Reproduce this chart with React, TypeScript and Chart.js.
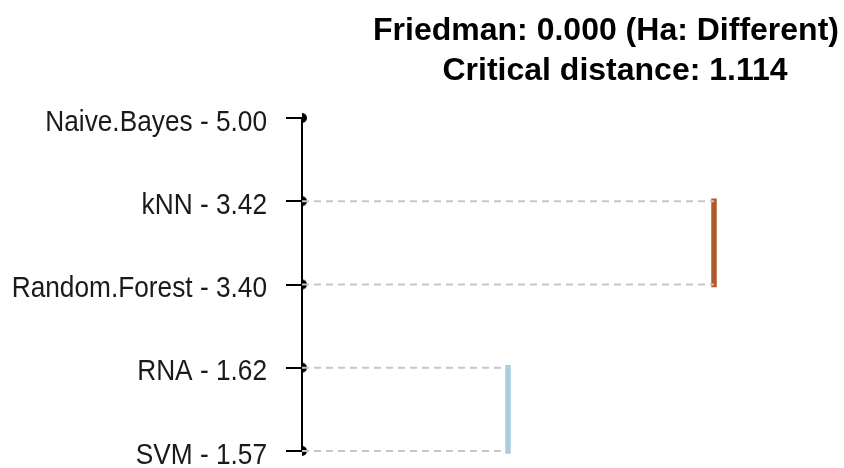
import React, { useEffect, useRef } from "react";
import { Chart, registerables } from "chart.js";

Chart.register(...registerables);

const methods = ["Naive.Bayes", "kNN", "Random.Forest", "RNA", "SVM"];
const ranks = [5.0, 3.42, 3.4, 1.62, 1.57];
const titleLines = ["Friedman: 0.000 (Ha: Different)", "Critical distance: 1.114"];
// groups of methods not significantly different
const groupMembers = [
  [1, 2],
  [3, 4],
];
const groupPositions = [2, 1];
const groupColors = ["#B15928", "#A6CEE3"];

const labels = methods.map((m, i) => `${m} - ${ranks[i].toFixed(2)}`);

const textPlugin = {
  id: "cdText",
  afterDraw(chart: any) {
    const ctx = chart.ctx;
    ctx.save();
    ctx.fillStyle = "#000";
    ctx.font = "bold 32px 'Liberation Sans', Arial, sans-serif";
    ctx.textAlign = "center";
    ctx.textBaseline = "alphabetic";
    const centers = [606, 615];
    const baselines = [40, 80];
    titleLines.forEach((t, i) => ctx.fillText(t, centers[i], baselines[i]));
    ctx.restore();

    // axis labels (slightly narrow rendering, as in the original)
    const y = chart.scales.y;
    const xRight = chart.chartArea.left - 35;
    const sx = 0.905;
    ctx.save();
    ctx.fillStyle = "#1a1a1a";
    ctx.font = "29px 'Liberation Sans', Arial, sans-serif";
    ctx.textAlign = "right";
    ctx.textBaseline = "alphabetic";
    ctx.scale(sx, 1);
    labels.forEach((l, i) => {
      const py = y.getPixelForValue(i);
      ctx.fillText(l, xRight / sx, py + 12.5);
    });
    ctx.restore();
  },
};

function halfDot(r: number) {
  const c = document.createElement("canvas");
  c.width = 2 * r + 2;
  c.height = 2 * r + 2;
  const x = c.getContext("2d")!;
  x.fillStyle = "#000";
  x.beginPath();
  x.arc(r + 1, r + 1, r, -Math.PI / 2, Math.PI / 2);
  x.closePath();
  x.fill();
  return c;
}

export default function App() {
  const ref = useRef<HTMLCanvasElement>(null);
  useEffect(() => {
    document.body.style.margin = "0";
    document.body.style.overflow = "hidden";
    const datasets: any[] = [];
    // dashed connectors
    groupMembers.forEach((members, g) => {
      members.forEach((m) => {
        datasets.push({
          type: "scatter",
          data: [
            { x: 0, y: labels[m] },
            { x: groupPositions[g], y: labels[m] },
          ],
          showLine: true,
          borderColor: "#c6c6c6",
          borderWidth: 2,
          borderDash: [7, 5],
          pointRadius: 0,
          clip: false,
        });
      });
    });
    // group bars
    groupMembers.forEach((members, g) => {
      datasets.push({
        type: "scatter",
        data: [
          { x: groupPositions[g], y: labels[members[0]] },
          { x: groupPositions[g], y: labels[members[members.length - 1]] },
        ],
        showLine: true,
        borderColor: groupColors[g],
        borderWidth: 5.5,
        borderCapStyle: "square",
        pointRadius: 0,
        clip: false,
      });
    });
    // axis dots
    datasets.push({
      type: "scatter",
      data: labels.map((l) => ({ x: 0, y: l })),
      pointStyle: halfDot(5),
      pointRadius: 6,
      showLine: false,
      clip: false,
    });

    const chart = new Chart(ref.current!, {
      type: "scatter",
      data: { labels, datasets },
      options: {
        animation: false,
        responsive: false,
        layout: { padding: { top: 118, bottom: 17, right: 27, left: 0 } },
        plugins: { legend: { display: false }, tooltip: { enabled: false }, title: { display: false } },
        scales: {
          x: { type: "linear", min: 0, max: 2.5, display: false },
          y: {
            type: "category",
            labels,
            offset: false,
            afterFit: (s: any) => {
              s.width = 302;
              s.paddingTop = 0;
              s.paddingBottom = 0;
            },
            grid: {
              display: true,
              drawOnChartArea: false,
              drawTicks: true,
              tickLength: 16,
              tickWidth: 2,
              color: "#000",
              lineWidth: 2,
              offset: false,
            },
            border: { display: true, color: "#000", width: 2 },
            ticks: { display: false, autoSkip: false },
          },
        },
      },
      plugins: [textPlugin],
    });
    return () => chart.destroy();
  }, []);
  return (
    <div style={{ position: "fixed", left: 0, top: 0, width: 844, height: 468, background: "#fff" }}>
      <canvas ref={ref} width={844} height={468} style={{ width: 844, height: 468 }} />
    </div>
  );
}
